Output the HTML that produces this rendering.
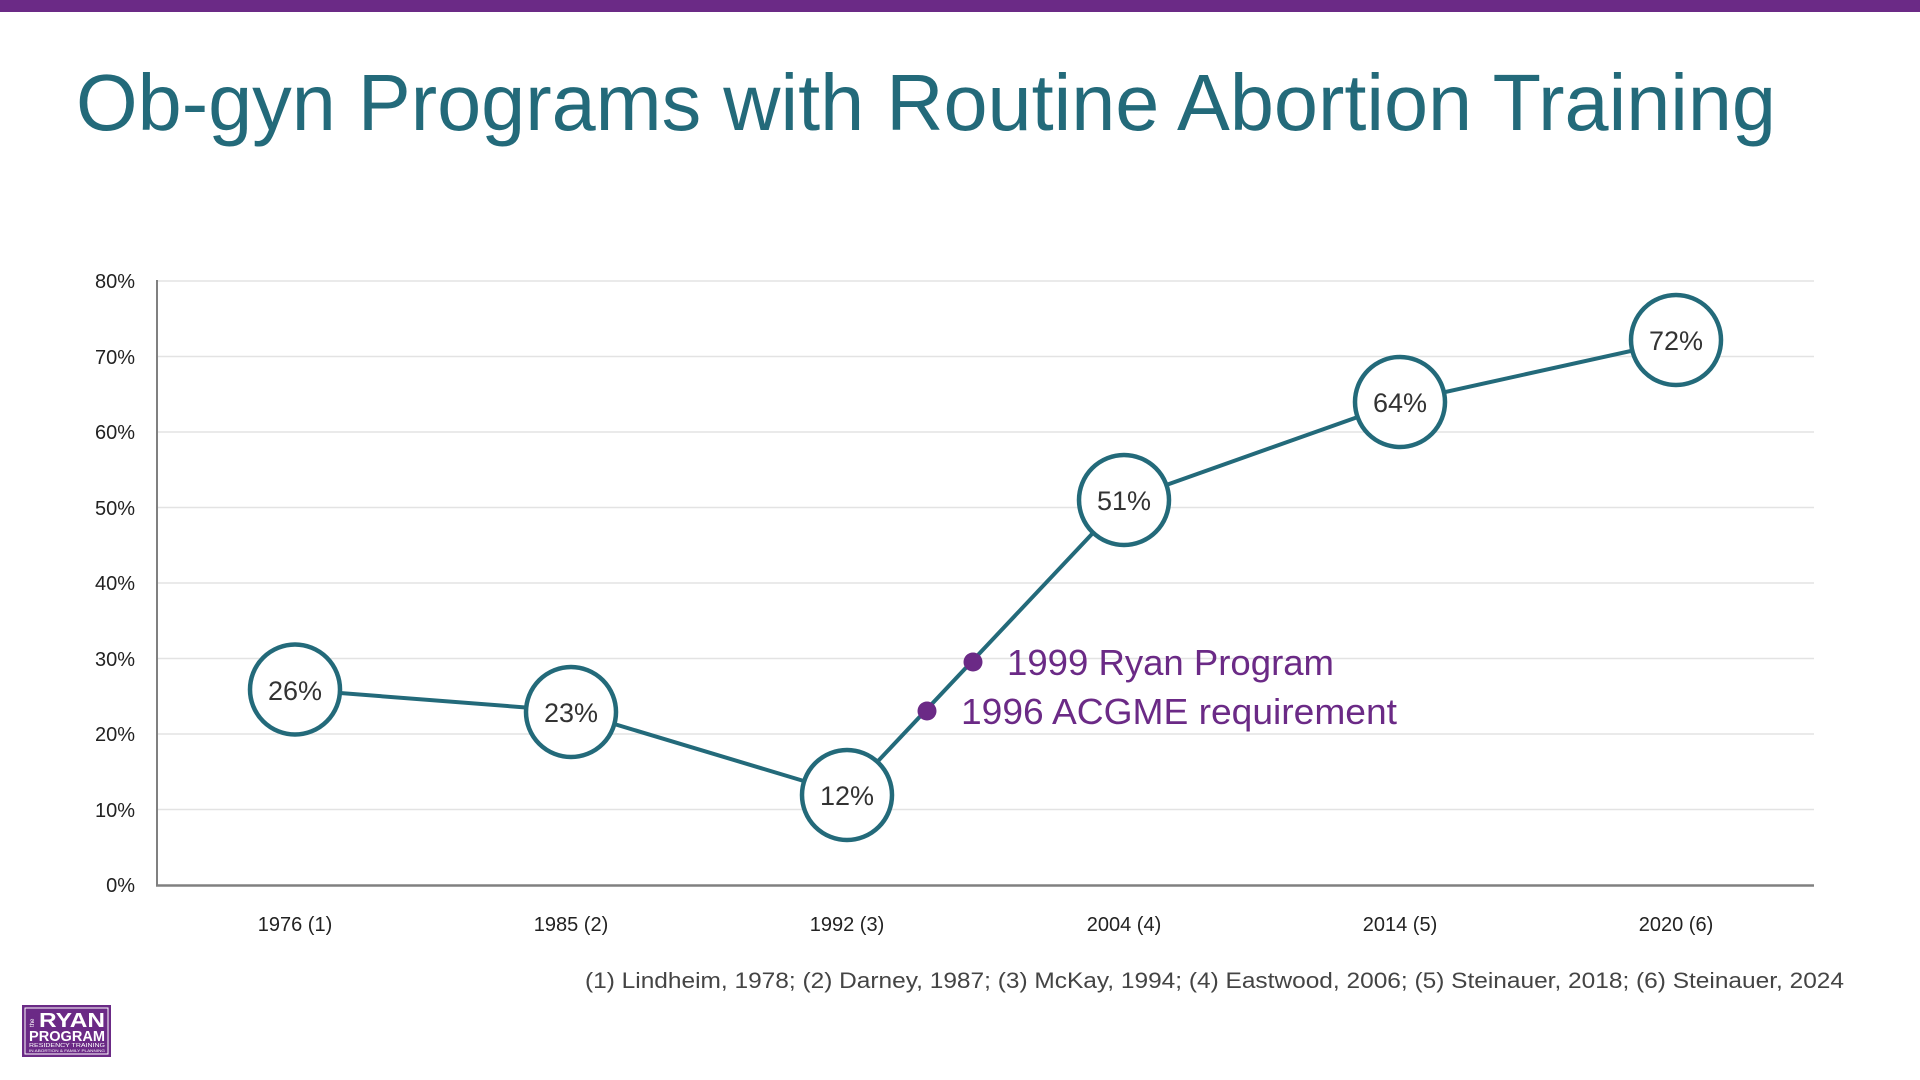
<!DOCTYPE html>
<html><head><meta charset="utf-8"><style>
html,body{margin:0;padding:0;background:#fff;}
svg{display:block;}
text{font-family:"Liberation Sans",sans-serif;}
</style></head><body>
<svg width="1920" height="1080" viewBox="0 0 1920 1080" xmlns="http://www.w3.org/2000/svg">
<rect x="0" y="0" width="1920" height="12" fill="#6b2a86"/>
<text x="76" y="130" font-size="80" fill="#236a7a" textLength="1700" lengthAdjust="spacingAndGlyphs">Ob-gyn Programs with Routine Abortion Training</text>
<g stroke="#e3e3e3" stroke-width="1.5">
<line x1="157" y1="281" x2="1814" y2="281"/>
<line x1="157" y1="356.5" x2="1814" y2="356.5"/>
<line x1="157" y1="432" x2="1814" y2="432"/>
<line x1="157" y1="507.5" x2="1814" y2="507.5"/>
<line x1="157" y1="583" x2="1814" y2="583"/>
<line x1="157" y1="658.5" x2="1814" y2="658.5"/>
<line x1="157" y1="734" x2="1814" y2="734"/>
<line x1="157" y1="809.5" x2="1814" y2="809.5"/>
</g>
<line x1="157" y1="280" x2="157" y2="886" stroke="#808080" stroke-width="2"/>
<line x1="156" y1="885.5" x2="1814" y2="885.5" stroke="#808080" stroke-width="2.5"/>
<g font-size="20" fill="#222" text-anchor="end">
<text x="135" y="288">80%</text>
<text x="135" y="364">70%</text>
<text x="135" y="439">60%</text>
<text x="135" y="515">50%</text>
<text x="135" y="590">40%</text>
<text x="135" y="666">30%</text>
<text x="135" y="741">20%</text>
<text x="135" y="817">10%</text>
<text x="135" y="892">0%</text>
</g>
<g font-size="20" fill="#222" text-anchor="middle">
<text x="295" y="931">1976 (1)</text>
<text x="571" y="931">1985 (2)</text>
<text x="847" y="931">1992 (3)</text>
<text x="1124" y="931">2004 (4)</text>
<text x="1400" y="931">2014 (5)</text>
<text x="1676" y="931">2020 (6)</text>
</g>
<polyline points="295,689.5 571,711 847,794 1124,500 1400,402 1676,341" fill="none" stroke="#236a7a" stroke-width="4"/>
<circle cx="927" cy="711" r="9.5" fill="#6b2a86"/>
<circle cx="973" cy="662" r="9.5" fill="#6b2a86"/>
<text x="1007" y="675" font-size="36" fill="#6b2a86" textLength="327" lengthAdjust="spacingAndGlyphs">1999 Ryan Program</text>
<text x="961" y="724" font-size="36" fill="#6b2a86" textLength="436" lengthAdjust="spacingAndGlyphs">1996 ACGME requirement</text>
<g fill="#fff" stroke="#236a7a" stroke-width="4.5">
<circle cx="295" cy="689.5" r="45"/>
<circle cx="571" cy="712" r="45"/>
<circle cx="847" cy="795" r="45"/>
<circle cx="1124" cy="500" r="45"/>
<circle cx="1400" cy="402" r="45"/>
<circle cx="1676" cy="340" r="45"/>
</g>
<g font-size="27" fill="#333" text-anchor="middle">
<text x="295" y="700">26%</text>
<text x="571" y="722">23%</text>
<text x="847" y="805">12%</text>
<text x="1124" y="510">51%</text>
<text x="1400" y="412">64%</text>
<text x="1676" y="350">72%</text>
</g>
<text x="585" y="988" font-size="22" fill="#444" textLength="1259" lengthAdjust="spacingAndGlyphs">(1) Lindheim, 1978;  (2) Darney, 1987; (3) McKay, 1994; (4) Eastwood, 2006; (5) Steinauer, 2018; (6) Steinauer, 2024</text>
<rect x="22" y="1005" width="89" height="52" fill="#6b2a86"/>
<rect x="25" y="1008" width="83" height="46" fill="none" stroke="#fff" stroke-width="1"/>
<text x="39" y="1027" font-size="20" font-weight="bold" fill="#fff" textLength="66" lengthAdjust="spacingAndGlyphs">RYAN</text>
<text x="29" y="1041" font-size="15" font-weight="bold" fill="#fff" textLength="76" lengthAdjust="spacingAndGlyphs">PROGRAM</text>
<text x="29" y="1047" font-size="5.5" fill="#fff" textLength="76" lengthAdjust="spacingAndGlyphs">RESIDENCY TRAINING</text>
<text x="29" y="1052" font-size="4" fill="#fff" textLength="76" lengthAdjust="spacingAndGlyphs">IN ABORTION &amp; FAMILY PLANNING</text>
<text x="34" y="1027" font-size="6" fill="#fff" transform="rotate(-90 34 1027)">the</text>
</svg>
</body></html>
